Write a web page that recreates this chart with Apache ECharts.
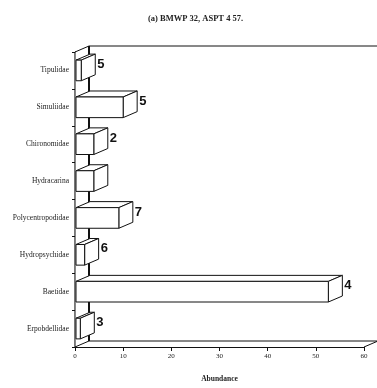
<!DOCTYPE html>
<html>
<head>
<meta charset="utf-8">
<script src="https://cdn.jsdelivr.net/npm/echarts@6/dist/echarts.min.js"></script>
<style>
  html, body { margin: 0; padding: 0; background: #fff; }
  #chart { width: 377px; height: 388px; }
</style>
</head>
<body>
<div id="chart"></div>
<script>
// families, top to bottom
var categories = ['Tipulidae', 'Simuliidae', 'Chironomidae', 'Hydracarina',
  'Polycentropodidae', 'Hydropsychidae', 'Baetidae', 'Erpobdellidae'];
var abundance = [1.3, 10, 3.9, 3.9, 9.1, 2, 52.6, 1.1];
var barLabels = ['5', '5', '2', '', '7', '6', '4', '3'];
var xTicks = [0, 10, 20, 30, 40, 50, 60];

var DX = 14, DY = -6; // depth of the 3d look

var chart = echarts.init(document.getElementById('chart'));

var boxData = abundance.map(function (v, i) { return [v, i, barLabels[i]]; });

var option = {
  animation: false,
  title: {
    text: '(a) BMWP 32, ASPT 4 57.',
    left: 143, top: 9,
    textStyle: { fontFamily: 'Liberation Serif', fontSize: 8.5, fontWeight: 'bold', color: '#222' }
  },
  grid: { left: 75, right: 13, top: 52, bottom: 35 },
  xAxis: {
    type: 'value',
    min: xTicks[0], max: xTicks[xTicks.length - 1], interval: 10,
    name: 'Abundance',
    nameLocation: 'middle',
    nameGap: 28,
    nameTextStyle: { fontFamily: 'Liberation Serif', fontSize: 7.5, fontWeight: 'bold', color: '#222' },
    axisLine: { show: true, lineStyle: { color: '#111', width: 1 } },
    axisTick: { show: true, length: 4, lineStyle: { color: '#111' } },
    axisLabel: { margin: 6, fontFamily: 'Liberation Serif', fontSize: 7, color: '#222' },
    splitLine: { show: false }
  },
  yAxis: {
    type: 'category',
    inverse: true,
    data: categories,
    axisLine: { show: true, lineStyle: { color: '#111', width: 1.3 } },
    axisTick: { show: true, length: 3, lineStyle: { color: '#111' } },
    axisLabel: { margin: 6, fontFamily: 'Liberation Serif', fontSize: 7.5, color: '#222' }
  },
  series: [
    {
      // walls and floor
      type: 'custom',
      z: 1,
      data: [[0, 0]],
      renderItem: function (params, api) {
        var band = api.size([0, 1])[1];
        var first = api.coord([0, 0]);
        var last = api.coord([0, categories.length - 1]);
        var right = api.coord([xTicks[xTicks.length - 1], 0])[0];
        var x0 = first[0];
        var yTop = first[1] - band / 2;
        var yBot = last[1] + band / 2;
        var line = { stroke: '#111', lineWidth: 1 };
        return {
          type: 'group',
          children: [
            { type: 'polygon', shape: { points: [[x0, yTop], [x0 + DX, yTop + DY], [x0 + DX, yBot + DY], [x0, yBot]] },
              style: { fill: '#fff', stroke: '#111', lineWidth: 1 } },
            { type: 'line', shape: { x1: x0 + DX, y1: yTop + DY, x2: x0 + DX, y2: yBot + DY },
              style: { stroke: '#111', lineWidth: 2 } },
            { type: 'line', shape: { x1: x0 + DX, y1: yTop + DY, x2: 377, y2: yTop + DY }, style: line },
            { type: 'line', shape: { x1: x0 + DX, y1: yBot + DY, x2: right + DX, y2: yBot + DY }, style: line },
            { type: 'line', shape: { x1: right, y1: yBot, x2: right + DX, y2: yBot + DY }, style: line }
          ]
        };
      }
    },
    {
      // 3d boxes
      type: 'custom',
      z: 3,
      encode: { x: 0, y: 1 },
      data: boxData,
      renderItem: function (params, api) {
        var v = api.value(0), idx = api.value(1);
        var p0 = api.coord([0, idx]);
        var p1 = api.coord([v, idx]);
        var h = api.size([0, 1])[1] * 0.56;
        var x0 = p0[0] + 1, x1 = p1[0];
        var yt = p0[1] - h / 2, yb = p0[1] + h / 2;
        var st = { fill: '#fff', stroke: '#111', lineWidth: 1 };
        var kids = [
          { type: 'polygon', shape: { points: [[x0, yt], [x0 + DX, yt + DY], [x1 + DX, yt + DY], [x1, yt]] }, style: st },
          { type: 'polygon', shape: { points: [[x1, yt], [x1 + DX, yt + DY], [x1 + DX, yb + DY], [x1, yb]] }, style: st },
          { type: 'rect', shape: { x: x0, y: yt, width: x1 - x0, height: h }, style: st }
        ];
        var lab = boxData[params.dataIndex][2];
        if (lab) {
          kids.push({
            type: 'text',
            style: {
              text: lab, x: x1 + DX + 2, y: p0[1] + DY,
              verticalAlign: 'middle', align: 'left',
              font: 'bold 13px "Liberation Sans", Arial, sans-serif', fill: '#111'
            }
          });
        }
        return { type: 'group', children: kids };
      }
    }
  ]
};

option && chart.setOption(option);
</script>
</body>
</html>
